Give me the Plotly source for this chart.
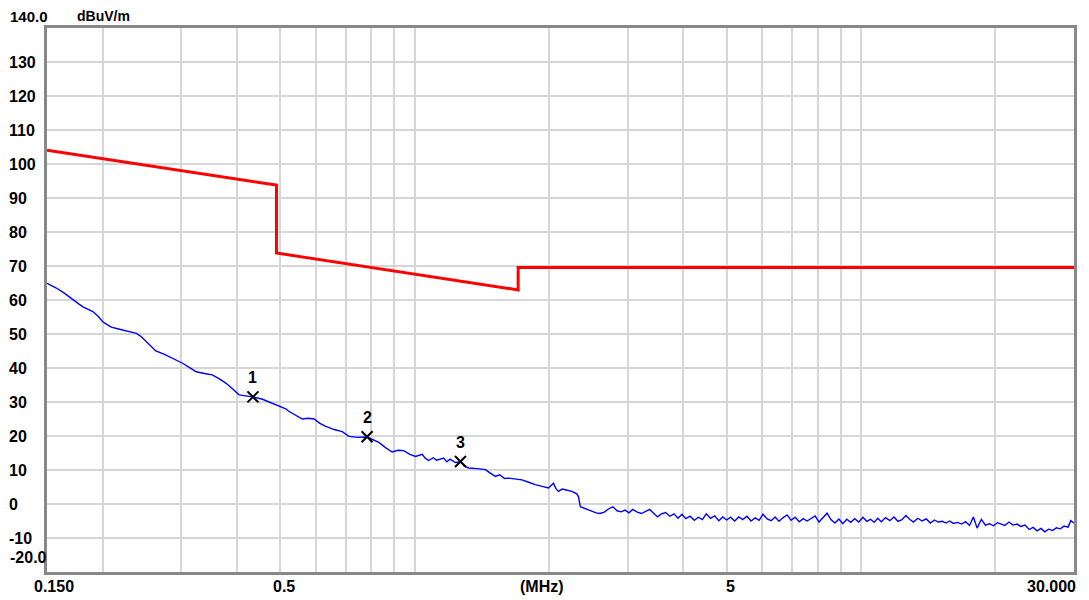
import math
import plotly.graph_objects as go

# ---- data ----
limit_freq = [0.15, 0.49, 0.49, 1.705, 1.705, 30.0]
limit_level = [104.08, 93.8, 73.8, 62.97, 69.54, 69.54]

trace_freq = [
    0.150, 0.157, 0.164, 0.1715, 0.176, 0.1806, 0.185, 0.190, 0.195, 0.200,
    0.205, 0.209, 0.218, 0.228, 0.238, 0.244, 0.250, 0.257, 0.263, 0.275,
    0.287, 0.302, 0.313, 0.324, 0.338, 0.352, 0.365, 0.378, 0.391, 0.404,
    0.418, 0.434, 0.456, 0.480, 0.497, 0.514, 0.523, 0.541, 0.560, 0.577,
    0.595, 0.613, 0.632, 0.660, 0.688, 0.712, 0.745, 0.782, 0.805, 0.831,
    0.860, 0.890, 0.917, 0.945, 0.975, 1.004, 1.039, 1.057, 1.075, 1.10,
    1.12, 1.161, 1.18, 1.20, 1.234, 1.266, 1.29, 1.321, 1.38, 1.440,
    1.48, 1.516, 1.55, 1.59, 1.623, 1.68, 1.738, 1.80, 1.862, 1.93,
    1.994, 2.046, 2.07, 2.098, 2.14, 2.173, 2.21, 2.249, 2.307, 2.327,
    2.35, 2.40, 2.45, 2.50, 2.55, 2.60, 2.66, 2.72, 2.78, 2.84,
    2.90, 2.96, 3.02, 3.08, 3.15, 3.22, 3.29, 3.36, 3.43, 3.50,
    3.57, 3.65, 3.73, 3.81, 3.89, 3.97, 4.05, 4.14, 4.23, 4.32,
    4.41, 4.50, 4.60, 4.70, 4.80, 4.90, 5.00, 5.10, 5.21, 5.32,
    5.43, 5.55, 5.67, 5.79, 5.91, 6.03, 6.16, 6.29, 6.42, 6.55,
    6.69, 6.83, 6.97, 7.12, 7.27, 7.42, 7.57, 7.73, 7.89, 8.05,
    8.22, 8.39, 8.56, 8.74, 8.92, 9.10, 9.29, 9.48, 9.68, 9.88,
    10.1, 10.3, 10.5, 10.7, 10.9, 11.1, 11.35, 11.6, 11.85, 12.1,
    12.35, 12.6, 12.85, 13.1, 13.4, 13.7, 14.0, 14.3, 14.6, 14.9,
    15.2, 15.5, 15.8, 16.1, 16.45, 16.8, 17.15, 17.5, 17.85, 18.2,
    18.6, 19.0, 19.4, 19.8, 20.2, 20.6, 21.0, 21.45, 21.9, 22.35,
    22.8, 23.3, 23.8, 24.3, 24.8, 25.3, 25.8, 26.3, 26.85, 27.4,
    27.95, 28.5, 29.1, 29.5, 30.0,
]
trace_level = [
    64.9, 63.6, 62.0, 60.0, 59.0, 58.0, 57.4, 56.6, 55.3, 53.6,
    52.7, 52.0, 51.4, 50.9, 50.2, 49.2, 47.8, 46.3, 45.0, 44.0,
    42.9, 41.4, 40.1, 38.9, 38.4, 38.0, 36.8, 35.5, 33.8, 32.1,
    31.8, 31.5, 30.8, 29.7, 28.9, 28.0, 27.2, 26.0, 25.0, 25.2,
    25.0, 23.7, 22.8, 21.9, 21.3, 19.9, 19.6, 19.7, 19.0, 18.1,
    16.6, 15.3, 15.8, 15.7, 14.6, 14.0, 14.6, 13.4, 12.8, 13.6,
    12.9, 13.5, 12.4, 13.2, 12.2, 12.4, 11.2, 10.6, 10.4, 10.1,
    9.0, 8.1, 8.6, 7.5, 7.6, 7.3, 7.1, 6.4, 5.7, 5.2,
    4.7, 6.1, 4.6, 3.7, 4.4, 4.2, 3.9, 3.7, 3.0, 2.2,
    -0.8, -1.3, -1.8, -2.3, -2.6, -2.8, -2.4, -1.4, -0.8, -2.0,
    -2.3, -1.8, -2.6, -1.6, -2.4, -2.8, -2.2, -1.6, -2.7, -3.8,
    -2.9, -2.5, -3.6, -2.9, -4.2, -3.0, -4.3, -3.6, -4.8, -3.9,
    -4.6, -2.9, -4.2, -3.5, -4.9, -3.8, -4.7, -3.9, -5.0, -3.8,
    -4.6, -3.6, -5.0, -4.1, -4.8, -3.0, -4.4, -4.9, -3.8, -5.1,
    -4.0, -3.2, -4.8, -3.9, -5.2, -4.3, -5.0, -4.2, -3.5, -5.3,
    -4.1, -2.7, -4.6, -5.6, -4.4, -5.8, -4.5, -5.4, -4.3, -5.3,
    -3.9, -5.1, -4.5, -5.4, -4.2, -5.2, -4.0, -4.9, -3.8, -5.1,
    -4.6, -3.4, -4.5, -5.3, -4.2, -5.0, -4.4, -5.6, -4.7, -5.3,
    -5.1, -5.6, -5.0, -5.7, -5.4, -5.9, -5.2, -6.3, -3.8, -7.1,
    -4.5, -6.2, -5.8, -6.4, -5.5, -6.0, -6.3, -5.3, -6.2, -5.9,
    -6.6, -6.2, -7.5, -6.9, -7.9, -7.2, -8.2, -7.4, -7.8, -7.0,
    -7.3, -6.5, -6.8, -4.9, -5.6,
]

marker_freq = [0.434, 0.782, 1.266]
marker_level = [31.5, 19.8, 12.5]
marker_text = ["1", "2", "3"]

y_tick_vals = [130, 120, 110, 100, 90, 80, 70, 60, 50, 40, 30, 20, 10, 0, -10]
x_grid_vals = [0.2, 0.3, 0.4, 0.5, 0.6, 0.7, 0.8, 0.9, 1, 2, 3, 4, 5, 6, 7, 8, 9, 10, 20]
x_label_vals = [0.5, 5]
x_label_text = ["0.5", "5"]

FONT = "Liberation Sans"
fs = 16

fig = go.Figure()
fig.add_trace(go.Scatter(x=limit_freq, y=limit_level, mode="lines",
                         line=dict(color="#ff0000", width=3), hoverinfo="skip"))
fig.add_trace(go.Scatter(x=trace_freq, y=trace_level, mode="lines",
                         line=dict(color="#0000ff", width=1.4), hoverinfo="skip"))
fig.add_trace(go.Scatter(x=marker_freq, y=marker_level, mode="markers",
                         marker=dict(symbol="x-thin", size=11, color="black",
                                     line=dict(color="black", width=2)),
                         hoverinfo="skip"))

ann = []
lab = dict(family=FONT, size=fs, color="black", weight="bold")
for f, v, t in zip(marker_freq, marker_level, marker_text):
    ann.append(dict(x=math.log10(f), y=v, xref="x", yref="y", text=t, showarrow=False,
                    yshift=19, font=lab))
for v in y_tick_vals:
    ann.append(dict(x=0, y=v, xref="paper", yref="y", text=str(v), showarrow=False,
                    xanchor="left", xshift=-40, font=lab))
ann.append(dict(x=0, y=-20, xref="paper", yref="y", text="-20.0", showarrow=False,
                xanchor="left", xshift=-39, yshift=15, font=lab))
ann.append(dict(x=0, y=140, xref="paper", yref="y", text="140.0", showarrow=False,
                xanchor="left", xshift=-39, yshift=12, font=dict(family=FONT, size=15, color="black", weight="bold")))
ann.append(dict(x=0, y=140, xref="paper", yref="y", text="dBuV/m", showarrow=False,
                xanchor="left", xshift=28, yshift=12,
                font=dict(family=FONT, size=14, color="black", weight="bold")))
ann.append(dict(x=math.log10(0.15), y=-20, xref="x", yref="y", text="0.150", showarrow=False,
                yshift=-14, xshift=7, font=lab))
for f, t in zip(x_label_vals, x_label_text):
    ann.append(dict(x=math.log10(f), y=-20, xref="x", yref="y", text=t, showarrow=False,
                    yshift=-14, xshift=4, font=lab))
ann.append(dict(x=0.4815, y=-20, xref="paper", yref="y", text="(MHz)", showarrow=False,
                yshift=-14, font=lab))
ann.append(dict(x=math.log10(30), y=-20, xref="x", yref="y", text="30.000", showarrow=False,
                xanchor="right", xshift=4, yshift=-14, font=lab))

# page body has an 8px default margin, so the figure is sized to fit the window
fig.update_layout(
    width=1081, height=592,
    margin=dict(l=39, r=12, t=20, b=28),
    paper_bgcolor="white", plot_bgcolor="white",
    showlegend=False,
    annotations=ann,
)
fig.update_xaxes(type="log", range=[math.log10(0.15), math.log10(30)],
                 tickvals=x_grid_vals, showticklabels=False, ticks="",
                 showgrid=True, gridcolor="#d6d6d6", gridwidth=1.5,
                 showline=True, mirror=True, linecolor="#888888", linewidth=2.5,
                 zeroline=False)
fig.update_yaxes(range=[-20, 140], dtick=10, tick0=0, showticklabels=False, ticks="",
                 showgrid=True, gridcolor="#d6d6d6", gridwidth=1.5,
                 showline=True, mirror=True, linecolor="#888888", linewidth=2.5,
                 zeroline=False)

fig.write_html("out.html")
